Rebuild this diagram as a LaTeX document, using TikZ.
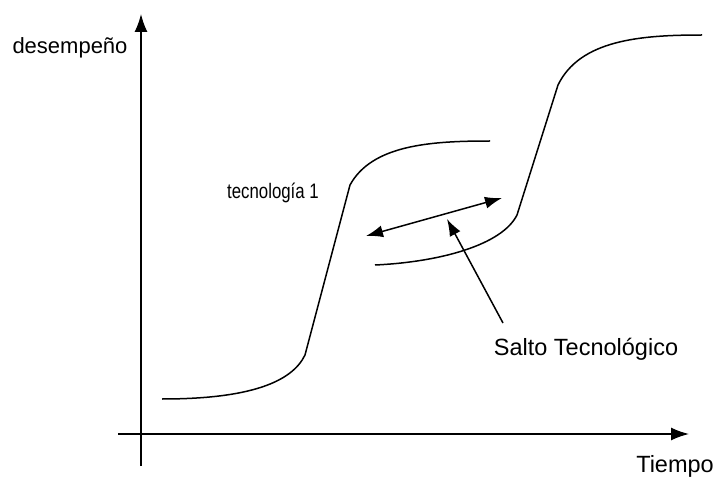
\documentclass[tikz,border=0pt]{standalone}
\usepackage{fontspec}
\setmainfont{Liberation Sans}
\newfontfamily\narrowfont[FakeStretch=0.8]{Liberation Sans}
\usetikzlibrary{arrows.meta}
\begin{document}
\begin{tikzpicture}[x=1pt,y=-1pt,
  axis/.style={line width=1.6pt,-{Latex[length=18pt,width=13pt]}},
  curve/.style={line width=1.5pt},
  ptr/.style={line width=1.5pt,-{Latex[length=17pt,width=12pt]}},
  dptr/.style={line width=1.5pt,{Latex[length=17pt,width=12pt]}-{Latex[length=17pt,width=12pt]}},
  lbl/.style={inner sep=0pt,font=\fontsize{23.5}{26}\selectfont}]
\useasboundingbox (0,0) rectangle (718,481);
% axes
\coordinate (ybot) at (141,466);
\coordinate (ytip) at (141,14);
\coordinate (xl) at (118,434);
\coordinate (xtip) at (689,434);
\draw[axis] (ybot) -- (ytip);
\draw[axis] (xl) -- (xtip);
% labels
\node[lbl,font=\fontsize{22}{24}\selectfont] (desemp) at (70,48) {desempeño};
\node[lbl] (tiempo) at (675,466) {Tiempo};
\node[lbl] (salto) at (586,349) {Salto Tecnológico};
\node[inner sep=0pt,font=\narrowfont\fontsize{21}{24}\selectfont] (tec1) at (273,193) {tecnología 1};
% curve 1
\draw[curve] (162,399) .. controls (250,399) and (292,382) .. (305,355)
  -- (350,185) .. controls (372,145) and (430,141) .. (490,141);
% curve 2
\draw[curve] (375,265) .. controls (440,262) and (502,245) .. (517,215)
  -- (558,85) .. controls (580,40) and (640,35) .. (702,35);
% arrows
\coordinate (dl) at (366,236);
\coordinate (dr) at (502,198);
\draw[dptr] (dl) -- (dr);
\coordinate (ptail) at (503,323);
\coordinate (phead) at (447,219);
\draw[ptr] (ptail) -- (phead);
\end{tikzpicture}
\end{document}
